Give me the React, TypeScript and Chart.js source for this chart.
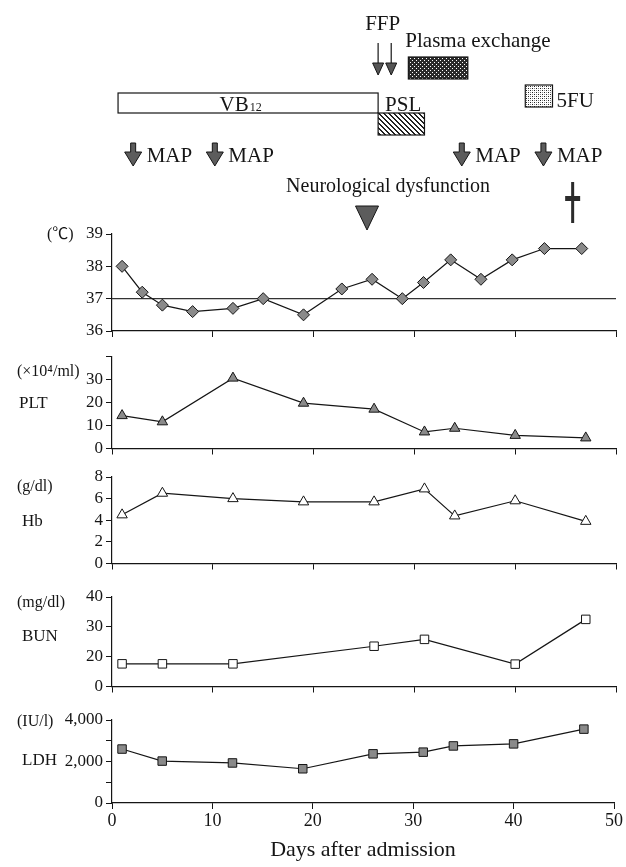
import React, { useEffect, useRef } from 'react';
import { Chart, registerables } from 'chart.js';

Chart.register(...registerables);

const FONT = "'Liberation Serif', 'Times New Roman', 'Noto Sans CJK JP', serif";
Chart.defaults.font.family = FONT;

// ---- x axis ----
const X_MIN = 0;
const X_MAX = 50;
const X_STEP = 10;
const X_TITLE = 'Days after admission';

// ---- body temperature ----
const TEMP_DAYS = [1, 3, 5, 8, 12, 15, 19, 22.8, 25.8, 28.8, 30.9, 33.6, 36.6, 39.7, 42.9, 46.6];
const TEMP_VALUES = [38.0, 37.2, 36.8, 36.6, 36.7, 37.0, 36.5, 37.3, 37.6, 37.0, 37.5, 38.2, 37.6, 38.2, 38.55, 38.55];
const TEMP_NORMAL = 37;
const TEMP_TICKS = [36, 39, 1];

// ---- laboratory data ----
const LAB_DAYS = [1, 5, 12, 19, 26, 31, 34, 40, 47];
const PLT_VALUES = [14.3, 11.6, 30.6, 19.7, 17.1, 7.2, 8.8, 5.7, 4.6];
const PLT_TICKS = [0, 40, 10];
const HB_VALUES = [4.5, 6.5, 6.0, 5.7, 5.7, 6.9, 4.4, 5.8, 3.9];
const HB_TICKS = [0, 8, 2];
const BUN_DAYS = [1, 5, 12, 26, 31, 40, 47];
const BUN_VALUES = [17.6, 17.6, 17.6, 23.5, 25.8, 17.5, 32.5];
const BUN_TICKS = [10, 40, 10]; // lowest tick is printed as "0" (broken axis)
const LDH_VALUES = [2600, 2020, 1930, 1650, 2370, 2450, 2750, 2850, 3560];
const LDH_TICKS = [0, 4000, 1000];

// ---- treatment timeline (days) ----
const VB12_SPAN = [0.6, 26.4];
const PSL_SPAN = [26.4, 31];
const PLASMA_SPAN = [29.4, 35.3];
const FU_SPAN = [41, 43.7];
const FFP_DAYS = [26.4, 27.7];
const MAP_DAYS = [2.1, 10.2, 34.7, 42.8];
const NEURO_DAY = 25.3;
const DEATH_DAY = 45.7;

const INK = '#151515';
const GRAY = '#8a8a8a';

const pts = (xs: number[], ys: number[]) => xs.map((x, i) => ({ x, y: ys[i] }));

function series(data: any[], style: string, fill: string) {
  return {
    data,
    borderColor: INK,
    borderWidth: 1.2,
    pointStyle: style,
    pointRadius: 6,
    pointBackgroundColor: fill,
    pointBorderColor: INK,
    pointBorderWidth: 1,
    tension: 0,
    fill: false,
    clip: false,
    order: 1,
  };
}

function makePattern(kind: string) {
  const size = kind === 'hatch' ? 5 : 4;
  const c = document.createElement('canvas');
  c.width = size;
  c.height = size;
  const g = c.getContext('2d') as CanvasRenderingContext2D;
  if (kind === 'cross') {
    g.fillStyle = '#2a2a2a';
    g.fillRect(0, 0, size, size);
    g.fillStyle = '#ffffff';
    g.fillRect(0, 0, 1, 1);
    g.fillRect(2, 2, 1, 1);
  } else if (kind === 'dots') {
    g.fillStyle = '#ffffff';
    g.fillRect(0, 0, size, size);
    g.fillStyle = '#222';
    g.fillRect(0, 0, 1, 1);
    g.fillRect(2, 2, 1, 1);
    g.fillStyle = '#888';
    g.fillRect(2, 0, 1, 1);
    g.fillRect(0, 2, 1, 1);
  } else {
    g.fillStyle = '#ffffff';
    g.fillRect(0, 0, size, size);
    g.fillStyle = '#222';
    for (let i = 0; i < size; i++) {
      g.fillRect(i, i, 1, 1);
      g.fillRect((i + 1) % size, i, 1, 1);
    }
  }
  return g;
}

const timelinePlugin = {
  id: 'timeline',
  afterDraw(chart: any) {
    const ctx: CanvasRenderingContext2D = chart.ctx;
    const xs = chart.scales.x;
    const px = (d: number) => xs.getPixelForValue(d);
    const font = (s: number) => `${s}px ${FONT}`;
    const pat = (k: string) => ctx.createPattern(makePattern(k).canvas, 'repeat') as CanvasPattern;
    ctx.save();
    ctx.lineWidth = 1.2;
    ctx.strokeStyle = INK;
    ctx.fillStyle = INK;
    ctx.textBaseline = 'alphabetic';

    // FFP
    const f0 = px(FFP_DAYS[0]);
    const f1 = px(FFP_DAYS[1]);
    ctx.font = font(21);
    ctx.textAlign = 'center';
    ctx.fillText('FFP', (f0 + f1) / 2 - 2, 30);
    FFP_DAYS.forEach((d) => {
      const x = px(d);
      ctx.beginPath();
      ctx.moveTo(x, 43);
      ctx.lineTo(x, 64);
      ctx.stroke();
      ctx.beginPath();
      ctx.moveTo(x - 5.5, 63);
      ctx.lineTo(x + 5.5, 63);
      ctx.lineTo(x, 75);
      ctx.closePath();
      ctx.fillStyle = '#555';
      ctx.fill();
      ctx.lineWidth = 1;
      ctx.stroke();
      ctx.lineWidth = 1.2;
    });

    // Plasma exchange
    const p0 = px(PLASMA_SPAN[0]);
    const p1 = px(PLASMA_SPAN[1]);
    ctx.fillStyle = INK;
    ctx.textAlign = 'left';
    ctx.fillText('Plasma exchange', p0 - 3, 47);
    ctx.fillStyle = pat('cross');
    ctx.fillRect(p0, 57, p1 - p0, 22);
    ctx.strokeRect(p0, 57, p1 - p0, 22);

    // VB12
    const v0 = px(VB12_SPAN[0]);
    const v1 = px(VB12_SPAN[1]);
    ctx.fillStyle = '#fff';
    ctx.fillRect(v0, 93, v1 - v0, 20);
    ctx.strokeRect(v0, 93, v1 - v0, 20);
    ctx.fillStyle = INK;
    ctx.font = font(21);
    const wVB = ctx.measureText('VB').width;
    ctx.font = font(12);
    const w12 = ctx.measureText('12').width;
    const vStart = (v0 + v1) / 2 - 8 - (wVB + w12) / 2;
    ctx.font = font(21);
    ctx.fillText('VB', vStart, 111);
    ctx.font = font(12);
    ctx.fillText('12', vStart + wVB + 1, 111);

    // PSL
    const s0 = px(PSL_SPAN[0]);
    const s1 = px(PSL_SPAN[1]);
    ctx.font = font(21);
    ctx.fillText('PSL', s0 + 7, 111);
    ctx.fillStyle = pat('hatch');
    ctx.fillRect(s0, 113, s1 - s0, 22);
    ctx.strokeRect(s0, 113, s1 - s0, 22);

    // 5FU
    const u0 = px(FU_SPAN[0]);
    const u1 = px(FU_SPAN[1]);
    ctx.fillStyle = pat('dots');
    ctx.fillRect(u0, 85, u1 - u0, 22);
    ctx.strokeRect(u0, 85, u1 - u0, 22);
    ctx.fillStyle = INK;
    ctx.fillText('5FU', u1 + 4, 107);

    // MAP transfusions
    MAP_DAYS.forEach((d) => {
      const x = px(d);
      ctx.beginPath();
      ctx.moveTo(x - 2.5, 143);
      ctx.lineTo(x + 2.5, 143);
      ctx.lineTo(x + 2.5, 152);
      ctx.lineTo(x + 8.5, 152);
      ctx.lineTo(x, 166);
      ctx.lineTo(x - 8.5, 152);
      ctx.lineTo(x - 2.5, 152);
      ctx.closePath();
      ctx.fillStyle = '#5c5c5c';
      ctx.fill();
      ctx.lineWidth = 1;
      ctx.stroke();
      ctx.fillStyle = INK;
      ctx.fillText('MAP', x + 13.5, 162);
    });

    // Neurological dysfunction
    const n = px(NEURO_DAY);
    ctx.textAlign = 'center';
    ctx.font = font(20);
    ctx.fillText('Neurological dysfunction', n + 21, 192);
    ctx.beginPath();
    ctx.moveTo(n - 11.5, 206);
    ctx.lineTo(n + 11.5, 206);
    ctx.lineTo(n, 230);
    ctx.closePath();
    ctx.fillStyle = '#5c5c5c';
    ctx.fill();
    ctx.stroke();

    // death (dagger)
    const dx = px(DEATH_DAY);
    ctx.fillStyle = '#2b2b2b';
    ctx.fillRect(dx - 1.5, 182, 3, 41);
    ctx.fillRect(dx - 7.5, 196, 15, 5);

    ctx.restore();
  },
};

function labelPlugin(top: number, labels: any[]) {
  return {
    id: 'panelLabels',
    afterDraw(chart: any) {
      const ctx: CanvasRenderingContext2D = chart.ctx;
      ctx.save();
      ctx.fillStyle = INK;
      ctx.textAlign = 'left';
      ctx.textBaseline = 'middle';
      labels.forEach((l) => {
        ctx.font = `${l.size}px ${FONT}`;
        ctx.fillText(l.text, l.x, l.y - top);
      });
      ctx.restore();
    },
  };
}

const tickGrid = { display: true, drawOnChartArea: false, drawTicks: true, tickLength: 6, color: INK, lineWidth: 1 };
const axisBorder = { display: true, color: INK, width: 1.2 };

const PANELS: any[] = [
  {
    top: 0, height: 345, padTop: 234, xHeight: 14, showX: false,
    range: TEMP_TICKS,
    yLabel: (v: number) => String(v),
    datasets: [
      series(pts(TEMP_DAYS, TEMP_VALUES), 'rectRot', GRAY),
      {
        data: [{ x: X_MIN, y: TEMP_NORMAL }, { x: X_MAX, y: TEMP_NORMAL }],
        borderColor: '#333', borderWidth: 1.4, pointRadius: 0, order: 2, fill: false,
      },
    ],
    labels: [{ text: '(℃)', x: 47, y: 235, size: 16 }],
    extra: [timelinePlugin],
  },
  {
    top: 345, height: 115, padTop: 10, xHeight: 11, showX: false,
    range: PLT_TICKS,
    yLabel: (v: number) => (v === 40 ? '' : String(v)),
    datasets: [series(pts(LAB_DAYS, PLT_VALUES), 'triangle', GRAY)],
    labels: [
      { text: '(×10⁴/ml)', x: 17, y: 372, size: 16 },
      { text: 'PLT', x: 19, y: 404, size: 17 },
    ],
  },
  {
    top: 460, height: 115, padTop: 17, xHeight: 10, showX: false,
    range: HB_TICKS,
    yLabel: (v: number) => String(v),
    datasets: [series(pts(LAB_DAYS, HB_VALUES), 'triangle', '#ffffff')],
    labels: [
      { text: '(g/dl)', x: 17, y: 487, size: 16 },
      { text: 'Hb', x: 22, y: 522, size: 17 },
    ],
  },
  {
    top: 575, height: 123, padTop: 22, xHeight: 10, showX: false,
    range: BUN_TICKS,
    yLabel: (v: number) => (v === 10 ? '0' : String(v)),
    datasets: [series(pts(BUN_DAYS, BUN_VALUES), 'rect', '#ffffff')],
    labels: [
      { text: '(mg/dl)', x: 17, y: 603, size: 16 },
      { text: 'BUN', x: 22, y: 637, size: 17 },
    ],
  },
  {
    top: 698, height: 169, padTop: 22, xHeight: 64, showX: true,
    range: LDH_TICKS,
    yLabel: (v: number) => (v === 1000 || v === 3000 ? '' : v.toLocaleString('en-US')),
    datasets: [series(pts(LAB_DAYS, LDH_VALUES), 'rect', GRAY)],
    labels: [
      { text: '(IU/l)', x: 17, y: 722, size: 16 },
      { text: 'LDH', x: 22, y: 761, size: 17 },
    ],
  },
];

function build(canvas: HTMLCanvasElement, p: any) {
  return new Chart(canvas, {
    type: 'line',
    data: { datasets: p.datasets },
    options: {
      animation: false,
      responsive: false,
      devicePixelRatio: 1,
      events: [],
      layout: { padding: { top: p.padTop, left: 0, right: 10, bottom: 0 } },
      plugins: { legend: { display: false }, tooltip: { enabled: false }, title: { display: false } },
      scales: {
        x: {
          type: 'linear',
          min: X_MIN,
          max: X_MAX,
          ticks: {
            stepSize: X_STEP, display: p.showX, color: INK, padding: 3, maxRotation: 0, autoSkip: false,
            font: { family: FONT, size: 18, lineHeight: 1 },
          },
          grid: tickGrid,
          border: axisBorder,
          title: {
            display: p.showX, text: X_TITLE, color: INK,
            font: { family: FONT, size: 22 }, padding: { top: 0, bottom: 4 },
          },
          afterFit: (s: any) => { s.height = p.xHeight; },
        },
        y: {
          type: 'linear',
          min: p.range[0],
          max: p.range[1],
          ticks: {
            stepSize: p.range[2], color: INK, padding: 3, autoSkip: false,
            font: { family: FONT, size: 17, lineHeight: 1 },
            callback: (v: any) => p.yLabel(Number(v)),
          },
          grid: tickGrid,
          border: axisBorder,
          afterFit: (s: any) => { s.width = 112; },
        },
      },
    } as any,
    plugins: [labelPlugin(p.top, p.labels), ...(p.extra || [])],
  });
}

export default function App() {
  const refs = useRef<(HTMLCanvasElement | null)[]>([]);
  useEffect(() => {
    const charts = PANELS.map((p, i) => build(refs.current[i] as HTMLCanvasElement, p));
    return () => charts.forEach((c) => c.destroy());
  }, []);
  return (
    <div style={{ position: 'absolute', left: 0, top: 0, width: 626, height: 867, background: '#fff', overflow: 'hidden' }}>
      {PANELS.map((p, i) => (
        <canvas
          key={i}
          ref={(el) => { refs.current[i] = el; }}
          width={626}
          height={p.height}
          style={{ position: 'absolute', left: 0, top: p.top, width: 626, height: p.height }}
        />
      ))}
    </div>
  );
}
